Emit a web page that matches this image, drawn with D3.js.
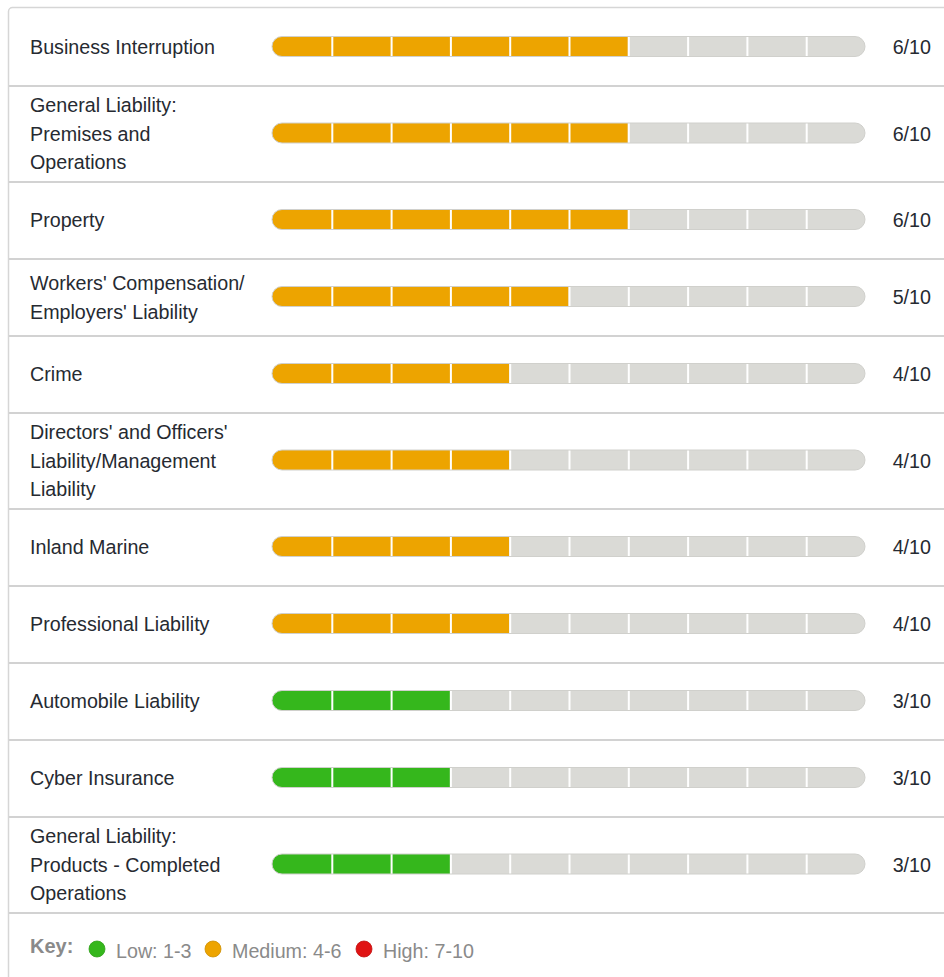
<!DOCTYPE html>
<html>
<head>
<meta charset="utf-8">
<script src="https://cdn.jsdelivr.net/npm/d3@7"></script>
<style>
  body { margin: 0; background: #fff; }
  svg { display: block; font-family: "Liberation Sans", Arial, sans-serif; }
</style>
</head>
<body>
<div id="chart"></div>
<script>
// labels already split into the lines shown in the picture
const categories = [
    ['Business Interruption'],
    ['General Liability:', 'Premises and', 'Operations'],
    ['Property'],
    ["Workers' Compensation/", "Employers' Liability"],
    ['Crime'],
    ["Directors' and Officers'", 'Liability/Management', 'Liability'],
    ['Inland Marine'],
    ['Professional Liability'],
    ['Automobile Liability'],
    ['Cyber Insurance'],
    ['General Liability:', 'Products - Completed', 'Operations']
];
const scores = [6, 6, 6, 5, 4, 4, 4, 4, 3, 3, 3];
const maxScore = 10;

const keyLevels = ['Low: 1-3', 'Medium: 4-6', 'High: 7-10'];
const keyColors = ['#35b71c', '#eda400', '#e01313'];

const width = 944;
const height = 977;
const panelTop = 9;
const fontSize = 19.7;

function levelColor(s) {
    if (s <= 3) return keyColors[0];
    if (s <= 6) return keyColors[1];
    return keyColors[2];
}

// row heights depend on how many lines the label has
let rows = [];
let y0 = panelTop;
categories.forEach((lines, i) => {
    let h = lines.length > 2 ? 96 : 77;
    rows.push({ lines: lines, score: scores[i], y: y0, h: h });
    y0 += h;
});
const keyTop = y0;

const xScale = d3.scaleLinear()
    .domain([0, maxScore])
    .range([272, 865]);

const barH = 20;

let svg = d3.select('#chart')
    .append('svg')
    .attr('width', width)
    .attr('height', height);

// outer panel
svg.append('rect')
    .attr('x', 8.5)
    .attr('y', 7.5)
    .attr('width', 960)
    .attr('height', 1000)
    .attr('rx', 4)
    .attr('fill', '#fff')
    .attr('stroke', '#d6d6d6')
    .attr('stroke-width', 1.5);

let defs = svg.append('defs');

let row = svg.selectAll('g.row')
    .data(rows)
    .enter()
    .append('g')
    .attr('class', 'row')
    .attr('transform', d => `translate(0,${d.y})`);

// separator under every row
row.append('line')
    .attr('x1', 9)
    .attr('x2', width)
    .attr('y1', d => d.h)
    .attr('y2', d => d.h)
    .attr('stroke', '#d2d2d2')
    .attr('stroke-width', 2);

// label
row.append('text')
    .attr('fill', '#262a31')
    .attr('font-size', fontSize)
    .each(function (d) {
        let t = d3.select(this);
        let lh = 28.5;
        let start = d.h / 2 - (d.lines.length - 1) * lh / 2;
        d.lines.forEach((l, k) => {
            t.append('tspan')
                .attr('x', 30)
                .attr('y', start + k * lh)
                .attr('dy', '0.35em')
                .text(l);
        });
    });

// bars
row.each(function (d, i) {
    let g = d3.select(this);
    let by = d.h / 2 - barH / 2 - 1;

    let inner = g.append('g')
        .attr('transform', `translate(0,${by})`);

    let clipId = 'clip' + i;
    defs.append('clipPath')
        .attr('id', clipId)
        .append('rect')
        .attr('x', xScale(0))
        .attr('y', 0)
        .attr('width', xScale(maxScore) - xScale(0))
        .attr('height', barH)
        .attr('rx', barH / 2);

    let clipped = inner.append('g').attr('clip-path', `url(#${clipId})`);

    clipped.append('rect')
        .attr('x', xScale(0))
        .attr('y', 0)
        .attr('width', xScale(maxScore) - xScale(0))
        .attr('height', barH)
        .attr('fill', '#dadad6');

    clipped.append('rect')
        .attr('x', xScale(0))
        .attr('y', 0)
        .attr('width', xScale(d.score) - xScale(0))
        .attr('height', barH)
        .attr('fill', levelColor(d.score));

    clipped.selectAll('line.div')
        .data(d3.range(1, maxScore))
        .enter()
        .append('line')
        .attr('class', 'div')
        .attr('x1', k => xScale(k) + 1)
        .attr('x2', k => xScale(k) + 1)
        .attr('y1', 0)
        .attr('y2', barH)
        .attr('stroke', '#fff')
        .attr('stroke-width', 2);

    inner.append('rect')
        .attr('x', xScale(0))
        .attr('y', 0)
        .attr('width', xScale(maxScore) - xScale(0))
        .attr('height', barH)
        .attr('rx', barH / 2)
        .attr('fill', 'none')
        .attr('stroke', '#d0d0cc')
        .attr('stroke-width', 1);

    g.append('text')
        .attr('x', 931)
        .attr('y', d.h / 2)
        .attr('dy', '0.35em')
        .attr('text-anchor', 'end')
        .attr('fill', '#262a31')
        .attr('font-size', fontSize)
        .text(d.score + '/' + maxScore);
});

// key
let key = svg.append('g')
    .attr('transform', `translate(0,${keyTop})`);

key.append('text')
    .attr('x', 30)
    .attr('y', 33)
    .attr('dy', '0.35em')
    .attr('font-size', 20)
    .attr('font-weight', 'bold')
    .attr('fill', '#8a8a8a')
    .text('Key:');

const keyX = [97, 213, 364];
keyLevels.forEach((lab, i) => {
    key.append('circle')
        .attr('cx', keyX[i])
        .attr('cy', 36)
        .attr('r', 8)
        .attr('fill', keyColors[i])
        .attr('stroke', d3.color(keyColors[i]).darker(0.4))
        .attr('stroke-width', 0.8);
    key.append('text')
        .attr('x', keyX[i] + 19)
        .attr('y', 38)
        .attr('dy', '0.35em')
        .attr('font-size', fontSize)
        .attr('fill', '#8a8a8a')
        .text(lab);
});
</script>
</body>
</html>
